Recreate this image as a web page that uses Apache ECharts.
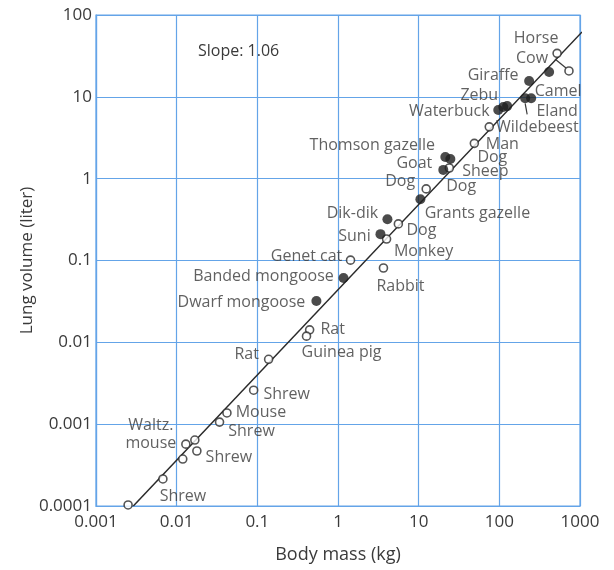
<!DOCTYPE html>
<html>
<head>
<meta charset="utf-8">
<script src="https://cdn.jsdelivr.net/npm/echarts@6/dist/echarts.min.js"></script>
<style>
  html, body { margin: 0; padding: 0; background: #ffffff; }
  #chart { width: 614px; height: 570px; }
</style>
</head>
<body>
<div id="chart"></div>
<script>
// Lung volume against body mass for mammals (log-log)

// Open circles: body mass (kg) and lung volume (liter)
const openMass = [520, 730, 75, 49, 24, 12.4, 5.6, 4.0, 1.43, 3.66, 0.445, 0.407, 0.138, 0.090, 0.042, 0.034, 0.0168, 0.0130, 0.0178, 0.0119, 0.00675, 0.0025];
const openLung = [34, 20.7, 4.3, 2.7, 1.35, 0.75, 0.28, 0.183, 0.101, 0.081, 0.0142, 0.0119, 0.0062, 0.0026, 0.00137, 0.00106, 0.00064, 0.00057, 0.00047, 0.000375, 0.000214, 0.000103];

// Filled circles: body mass (kg) and lung volume (liter)
const filledMass = [414, 234, 209, 248, 97, 112, 125, 21.4, 24.7, 20.2, 10.5, 4.1, 3.36, 1.17, 0.54];
const filledLung = [20.1, 15.6, 9.6, 9.6, 6.9, 7.5, 7.7, 1.84, 1.74, 1.28, 0.56, 0.32, 0.21, 0.061, 0.032];

// Fitted allometric line, two end points
const fitMass = [0.0029, 1060];
const fitLung = [0.0001, 62];
const slopeText = 'Slope: 1.06';

// Animal names and the point each one refers to ('o' open, 'f' filled)
const labelText = ['Horse', 'Cow', 'Giraffe', 'Camel', 'Eland', 'Zebu', 'Waterbuck', 'Wildebeest', 'Man', 'Dog',
  'Thomson gazelle', 'Goat', 'Sheep', 'Dog', 'Dog', 'Grants gazelle', 'Dik-dik', 'Suni', 'Dog', 'Monkey',
  'Genet cat', 'Banded mongoose', 'Rabbit', 'Dwarf mongoose', 'Rat', 'Guinea pig', 'Rat', 'Shrew', 'Mouse', 'Shrew',
  'Waltz.\nmouse', 'Shrew', 'Shrew'];
const labelGroup = ['o', 'o', 'f', 'f', 'f', 'f', 'f', 'o', 'o', 'o',
  'f', 'f', 'f', 'o', 'o', 'f', 'f', 'f', 'o', 'o',
  'o', 'f', 'o', 'f', 'o', 'o', 'o', 'o', 'o', 'o',
  'o', 'o', 'o'];
const labelIndex = [0, 1, 1, 3, 2, 5, 4, 2, 3, 4,
  7, 8, 9, 5, 5, 10, 11, 12, 6, 7,
  8, 13, 9, 14, 10, 11, 12, 13, 14, 15,
  17, 18, 20];

// Axis tick labels
const xTickLabels = ['0.001', '0.01', '0.1', '1', '10', '100', '1000'];
const yTickLabels = ['0.0001', '0.001', '0.01', '0.1', '1', '10', '100'];

// Layout: label offsets from their point (px)
const labelOffset = [[-21, -15], [-37, -13], [-36, -6], [27, -7], [32, 13], [-24, -12], [-49, 1], [48, 1], [28, 1], [43, -11],
  [-73, -12], [-36, 4], [42, 2], [-26, -7], [35, -2], [57, 14], [-35, -6], [-26, 2], [23, 7], [37, 12],
  [-44, -4], [-80, -2], [17, 18], [-75, 1], [23, 0], [35, 16], [-22, -5], [33, 4], [34, -1], [32, 9],
  [-35, -10], [32, 6], [20, 17]];
// Layout: leader lines (label number, start and end offsets from the point in px)
const leaderLabel = [1, 4];
const leaderFrom = [[-14, -12], [0, 5]];
const leaderTo = [[-3, -3], [2, 16]];

const FONT = 'Open Sans';
const TEXT = '#3a3a3a';
const BLUE = '#64a4e8';

const openData = openMass.map((m, i) => [m, openLung[i]]);
const filledData = filledMass.map((m, i) => [m, filledLung[i]]);
const fitData = fitMass.map((m, i) => [m, fitLung[i]]);
const pointOf = (i) => (labelGroup[i] === 'o' ? openData : filledData)[labelIndex[i]];
const labelData = labelText.map((t, i) => ({ name: t, value: pointOf(i).slice() }));
const leaderData = leaderLabel.map((li) => pointOf(li).slice());

const chart = echarts.init(document.getElementById('chart'), null, { renderer: 'canvas' });

const logLabel = (arr, base) => (v) => {
  const k = Math.round(Math.log10(v)) + base;
  return arr[k] !== undefined ? arr[k] : '';
};

chart.setOption({
  animation: false,
  backgroundColor: '#ffffff',
  textStyle: { fontFamily: FONT },
  grid: {
    left: 96, right: 34, top: 15, bottom: 64,
    show: true, borderColor: BLUE, borderWidth: 1.2
  },
  graphic: [{
    type: 'text', left: 198, top: 43,
    style: { text: slopeText, font: '16px "' + FONT + '"', fill: TEXT }
  }],
  xAxis: {
    type: 'log', logBase: 10, min: 0.001, max: 1000, splitNumber: 6,
    name: 'Body mass (kg)', nameLocation: 'middle', nameGap: 40, nameMoveOverlap: false,
    nameTextStyle: { color: TEXT, fontSize: 18, fontFamily: FONT },
    axisLine: { lineStyle: { color: BLUE, width: 1.2 } },
    axisTick: { show: false },
    axisLabel: { color: TEXT, fontSize: 17, fontFamily: FONT, margin: 8, formatter: logLabel(xTickLabels, 3) },
    splitLine: { show: true, lineStyle: { color: BLUE, width: 1.2 } }
  },
  yAxis: {
    type: 'log', logBase: 10, min: 0.0001, max: 100, splitNumber: 6,
    name: 'Lung volume (liter)', nameLocation: 'middle', nameGap: 60, nameMoveOverlap: false,
    nameTextStyle: { color: TEXT, fontSize: 17, fontFamily: FONT },
    axisLine: { lineStyle: { color: BLUE, width: 1.2 } },
    axisTick: { show: false },
    axisLabel: { color: TEXT, fontSize: 17, fontFamily: FONT, margin: 4, formatter: logLabel(yTickLabels, 4) },
    splitLine: { show: true, lineStyle: { color: BLUE, width: 1.2 } }
  },
  series: [
    {
      type: 'line', data: fitData, showSymbol: false, clip: false, z: 2,
      lineStyle: { color: '#2a2a2a', width: 1.5 }
    },
    {
      type: 'scatter', data: openData, symbol: 'circle', symbolSize: 8, z: 3,
      itemStyle: { color: '#ffffff', borderColor: '#2a2a2a', borderWidth: 1.6 }
    },
    {
      type: 'scatter', data: filledData, symbol: 'circle', symbolSize: 10, z: 3,
      itemStyle: { color: '#1e1e1e', borderColor: '#1e1e1e', borderWidth: 0 }
    },
    {
      // leader lines from a name to its point
      type: 'custom', data: leaderData, z: 4, silent: true,
      renderItem: (params, api) => {
        const p = api.coord([api.value(0), api.value(1)]);
        const a = leaderFrom[params.dataIndex], b = leaderTo[params.dataIndex];
        return {
          type: 'line',
          shape: { x1: p[0] + a[0], y1: p[1] + a[1], x2: p[0] + b[0], y2: p[1] + b[1] },
          style: { stroke: '#3a3a3a', lineWidth: 1.2 }
        };
      }
    },
    {
      type: 'scatter', data: labelData, symbol: 'circle', symbolSize: 1, z: 4,
      itemStyle: { color: 'rgba(0,0,0,0)' },
      silent: true,
      label: {
        show: true, position: 'inside', formatter: '{b}',
        color: TEXT, fontSize: 16, fontFamily: FONT, lineHeight: 18,
        align: 'center', verticalAlign: 'middle'
      },
      labelLayout: (p) => {
        const o = labelOffset[p.dataIndex];
        return { dx: o[0], dy: o[1] };
      }
    }
  ]
});
</script>
</body>
</html>
